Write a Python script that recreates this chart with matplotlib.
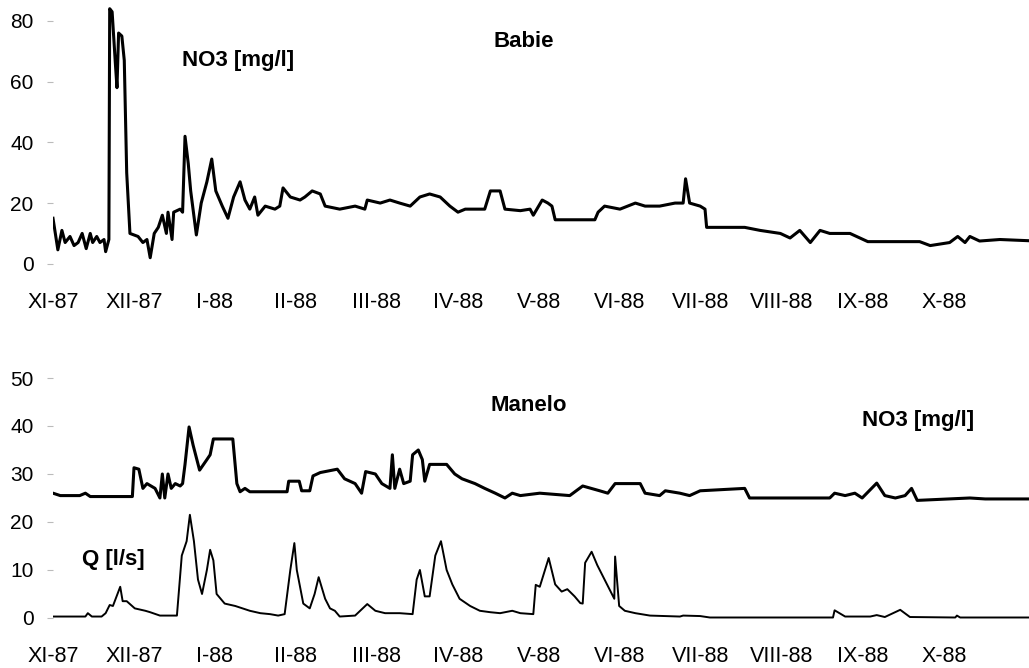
import matplotlib
matplotlib.use('Agg')
import matplotlib.pyplot as plt

# time axis: months since 1 Nov 1987
months = ['XI-87', 'XII-87', 'I-88', 'II-88', 'III-88', 'IV-88',
          'V-88', 'VI-88', 'VII-88', 'VIII-88', 'IX-88', 'X-88']

# Babie - NO3 [mg/l]
babie_t = [0.00, 0.06, 0.11, 0.15, 0.21, 0.26, 0.31, 0.36, 0.41, 0.46, 0.49, 0.54,
           0.58, 0.63, 0.65, 0.69, 0.70, 0.73, 0.77, 0.79, 0.81, 0.85, 0.88, 0.91,
           0.95, 1.05, 1.11, 1.16, 1.20, 1.25, 1.30, 1.35, 1.40, 1.42, 1.47, 1.49,
           1.57, 1.60, 1.63, 1.67, 1.70, 1.77, 1.83, 1.90, 1.96, 2.01, 2.09, 2.16,
           2.23, 2.31, 2.37, 2.43, 2.49, 2.53, 2.62, 2.74, 2.80, 2.84, 2.93, 3.05,
           3.11, 3.20, 3.30, 3.36, 3.54, 3.73, 3.85, 3.88, 4.04, 4.16, 4.28, 4.41,
           4.53, 4.65, 4.78, 4.90, 5.00, 5.09, 5.33, 5.40, 5.52, 5.58, 5.77, 5.89,
           5.93, 6.04, 6.11, 6.16, 6.20, 6.69, 6.73, 6.81, 7.00, 7.19, 7.31, 7.49,
           7.68, 7.78, 7.81, 7.86, 7.99, 8.05, 8.07, 8.54, 8.73, 8.98, 9.10, 9.22,
           9.35, 9.47, 9.59, 9.84, 10.06, 10.70, 10.83, 11.07, 11.17, 11.26, 11.32,
           11.44, 11.69, 12.05]
babie_no3 = [15, 4.6, 11, 7, 9, 6, 7, 10, 5, 10, 7, 9,
             7, 8, 4, 8, 84, 83, 66, 58, 76, 75, 67, 30,
             10, 9, 7, 8, 2, 10, 12, 16, 10, 17, 8, 17,
             18, 17, 42, 33, 24, 9.5, 20, 27, 34.5, 24, 19, 15,
             22, 27, 21, 18, 22, 16, 19, 18, 19, 25, 22, 21,
             22, 24, 23, 19, 18, 19, 18, 21, 20, 21, 20, 19,
             22, 23, 22, 19, 17, 18, 18, 24, 24, 18, 17.5, 18,
             16, 21, 20, 19, 14.5, 14.5, 17, 19, 18, 20, 19, 19,
             20, 20, 28, 20, 19, 18, 12, 12, 11, 10, 8.5, 11,
             7, 11, 10, 10, 7.3, 7.3, 6, 7, 9, 7, 9,
             7.5, 8, 7.6]

# Manelo - NO3 [mg/l]
manelo_t = [0.00, 0.09, 0.33, 0.40, 0.46, 0.98, 1.00, 1.06, 1.11, 1.16, 1.26, 1.32,
            1.35, 1.38, 1.42, 1.46, 1.51, 1.57, 1.60, 1.63, 1.68, 1.73, 1.81, 1.90,
            1.94, 1.98, 2.22, 2.27, 2.31, 2.37, 2.43, 2.89, 2.91, 3.04, 3.07, 3.17,
            3.21, 3.30, 3.51, 3.60, 3.73, 3.81, 3.86, 3.98, 4.06, 4.16, 4.19, 4.22,
            4.28, 4.33, 4.41, 4.44, 4.51, 4.56, 4.59, 4.65, 4.78, 4.86, 4.96, 5.05,
            5.21, 5.33, 5.46, 5.58, 5.67, 5.77, 6.01, 6.38, 6.54, 6.75, 6.85, 6.94,
            7.25, 7.31, 7.49, 7.56, 7.74, 7.86, 7.99, 8.54, 8.60, 9.59, 9.65, 9.78,
            9.90, 9.99, 10.17, 10.27, 10.40, 10.52, 10.60, 10.67, 11.32, 11.51, 12.05]
manelo_no3 = [26, 25.5, 25.5, 26, 25.3, 25.3, 31.3, 31, 27, 28, 27, 25,
              30, 25, 30, 27, 28, 27.5, 28, 32, 39.8, 36, 30.8, 33,
              34, 37.3, 37.3, 28, 26.3, 27, 26.3, 26.3, 28.5, 28.5, 26.5, 26.5,
              29.6, 30.3, 31, 29, 28, 26, 30.5, 30, 28, 27, 34, 27,
              31, 28, 28.5, 34, 35, 33, 28.5, 32, 32, 32, 30, 29,
              28, 27, 26, 25, 26, 25.5, 26, 25.5, 27.5, 26.5, 26, 28,
              28, 26, 25.5, 26.5, 26, 25.5, 26.5, 27, 25, 25, 26, 25.5,
              26, 25, 28.1, 25.5, 25, 25.5, 27, 24.5, 25, 24.8, 24.8]

# Manelo - discharge Q [l/s]
q_t = [0.00, 0.40, 0.43, 0.48, 0.60, 0.65, 0.70, 0.74, 0.83, 0.86, 0.91, 1.01,
       1.14, 1.20, 1.32, 1.53, 1.59, 1.65, 1.69, 1.74, 1.79, 1.84, 1.90, 1.94,
       1.98, 2.02, 2.12, 2.25, 2.43, 2.56, 2.68, 2.78, 2.86, 2.93, 2.98, 3.01,
       3.09, 3.17, 3.23, 3.28, 3.36, 3.42, 3.48, 3.54, 3.73, 3.88, 3.98, 4.10,
       4.28, 4.44, 4.49, 4.53, 4.59, 4.65, 4.72, 4.79, 4.86, 4.93, 5.02, 5.15,
       5.27, 5.40, 5.52, 5.67, 5.77, 5.93, 5.96, 6.01, 6.12, 6.20, 6.28, 6.35,
       6.44, 6.51, 6.54, 6.57, 6.65, 6.72, 6.78, 6.84, 6.90, 6.93, 6.94, 6.99,
       7.06, 7.19, 7.37, 7.74, 7.78, 7.99, 8.11, 9.63, 9.65, 9.78, 10.09, 10.17,
       10.27, 10.46, 10.58, 11.14, 11.16, 11.20, 12.05]
q_val = [0.3, 0.3, 1.0, 0.3, 0.3, 1.0, 2.7, 2.5, 6.5, 3.5, 3.5, 2,
         1.5, 1.2, 0.5, 0.5, 13, 16, 21.5, 16, 8, 5, 10, 14.2,
         12, 5, 3, 2.5, 1.5, 1, 0.8, 0.5, 0.8, 10, 15.6, 10,
         3, 2, 5, 8.5, 4, 2, 1.5, 0.3, 0.5, 2.9, 1.5, 1,
         1, 0.8, 8, 10, 4.5, 4.5, 13, 16, 10, 7, 4, 2.5,
         1.5, 1.2, 1, 1.5, 1, 0.8, 6.9, 6.5, 12.5, 7, 5.5, 6,
         4.5, 3.1, 3, 11.5, 13.8, 11, 9, 7, 5, 4, 12.8, 2.5,
         1.5, 1, 0.5, 0.3, 0.5, 0.4, 0.1, 0.1, 1.6, 0.3, 0.3, 0.6,
         0.2, 1.7, 0.2, 0.1, 0.5, 0.1, 0.1]

plt.rcParams['font.family'] = ['Liberation Sans', 'DejaVu Sans']

fig = plt.figure(figsize=(10.29, 6.68), dpi=100)
ax1 = fig.add_axes([0.0515, 0.596, 0.9485, 0.40])
ax2 = fig.add_axes([0.0515, 0.0677, 0.9485, 0.3808])

ax1.plot(babie_t, babie_no3, color='black', lw=2.2)
ax1.set_xlim(0, 12.05)
ax1.set_ylim(-2, 86)
ax1.set_yticks([0, 20, 40, 60, 80])
ax1.text(0.132, 0.785, 'NO3 [mg/l]', transform=ax1.transAxes, fontsize=16,
         fontweight='bold', va='center')
ax1.text(0.451, 0.853, 'Babie', transform=ax1.transAxes, fontsize=16,
         fontweight='bold', va='center')

ax2.plot(manelo_t, manelo_no3, color='black', lw=2.2)
ax2.plot(q_t, q_val, color='black', lw=1.4)
ax2.set_xlim(0, 12.05)
ax2.set_ylim(-1, 52)
ax2.set_yticks([0, 10, 20, 30, 40, 50])
ax2.text(0.448, 0.856, 'Manelo', transform=ax2.transAxes, fontsize=16,
         fontweight='bold', va='center')
ax2.text(0.829, 0.797, 'NO3 [mg/l]', transform=ax2.transAxes, fontsize=16,
         fontweight='bold', va='center')
ax2.text(0.0297, 0.247, 'Q [l/s]', transform=ax2.transAxes, fontsize=16,
         fontweight='bold', va='center')

for ax, xpad in ((ax1, 16), (ax2, 17)):
    for s in ax.spines.values():
        s.set_visible(False)
    ax.set_xticks(range(12))
    ax.set_xticklabels(months)
    ax.tick_params(axis='x', length=0, labelsize=15.5, pad=xpad)
    ax.tick_params(axis='y', length=4, color='#bbbbbb', labelsize=15, pad=10)

plt.savefig('out.png', dpi=100)
